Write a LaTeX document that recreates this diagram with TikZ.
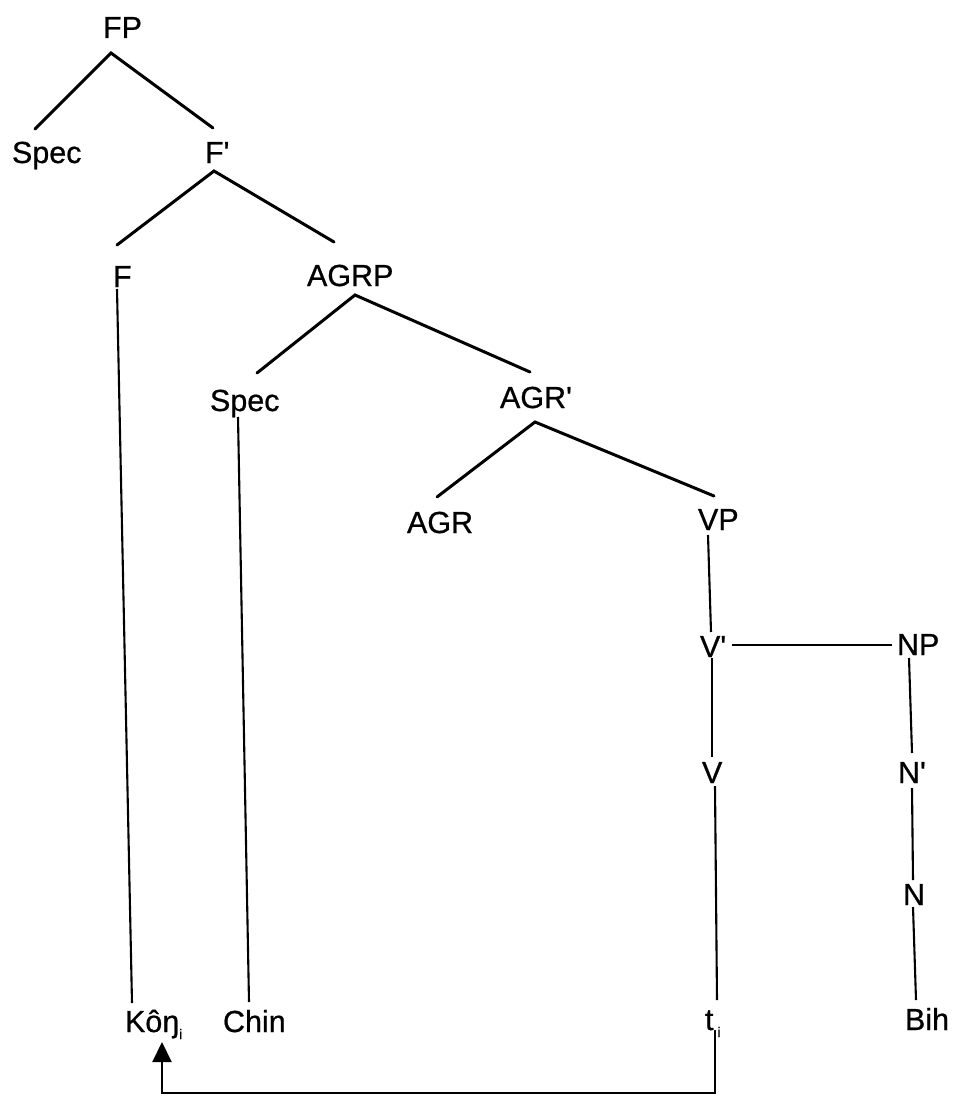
\documentclass[tikz,border=0pt]{standalone}
\usepackage{fontspec}
\setmainfont{Liberation Sans}[Ligatures=TeXOff, UprightFeatures={FakeBold=0.7}]
\usetikzlibrary{arrows.meta}
\tikzset{
  lab/.style={anchor=base west, inner sep=0pt, outer sep=0pt, font=\fontsize{30.5}{36}\selectfont},
  branch/.style={line width=3pt, line cap=round},
  vline/.style={line width=2.1pt, line cap=butt},
  movearrow/.style={line width=2.2pt, -{Triangle[length=20pt,width=19pt]}},
}
\newcommand{\subi}{\raisebox{-7pt}{\fontsize{14}{14}\selectfont i}}
\begin{document}
\begin{tikzpicture}[x=1pt, y=-1pt]
\useasboundingbox (0,0) rectangle (953,1097);
% nodes (left x, baseline y)
\node[lab] (FP)    at (103,38)   {FP};
\node[lab] (SpecA) at (12,163)   {Spec};
\node[lab] (Fbar)  at (205,163)  {F'};
\node[lab] (F)     at (113,287)  {F};
\node[lab] (AGRP)  at (307,286)  {AGRP};
\node[lab] (SpecB) at (210,411)  {Spec};
\node[lab] (AGRbar) at (500,408) {AGR'};
\node[lab] (AGR)   at (407,533)  {AGR};
\node[lab] (VP)    at (698,530)  {VP};
\node[lab] (Vbar)  at (700,657)  {V'};
\node[lab] (NP)    at (897,655)  {NP};
\node[lab] (V)     at (702,783)  {V};
\node[lab] (Nbar)  at (898,783)  {N'};
\node[lab] (N)     at (903,905)  {N};
\node[lab] (Kon)   at (125,1032) {Kôŋ\subi};
\node[lab] (Chin)  at (223,1032) {Chin};
\node[lab] (t)     at (705,1030) {t\kern4pt\subi};
\node[lab] (Bih)   at (905,1030) {Bih};
% branches
\draw[branch] ([shift={(23,-34)}]SpecA.base west) -- ([shift={(8,15)}]FP.base west) -- ([shift={(8,-35)}]Fbar.base west);
\draw[branch] ([shift={(4,-42)}]F.base west) -- ([shift={(9,8)}]Fbar.base west) -- ([shift={(27,-44)}]AGRP.base west);
\draw[branch] ([shift={(47,-38)}]SpecB.base west) -- ([shift={(48,9)}]AGRP.base west) -- ([shift={(30,-36)}]AGRbar.base west);
\draw[branch] ([shift={(30,-36)}]AGR.base west) -- ([shift={(35,14)}]AGRbar.base west) -- ([shift={(16,-34)}]VP.base west);
% vertical / straight lines
\draw[vline] ([shift={(10,5)}]VP.base west) -- ([shift={(11,-25)}]Vbar.base west);
\draw[vline] ([shift={(32,-12)}]Vbar.base west) -- ([shift={(-5,-10)}]NP.base west);
\draw[vline] ([shift={(12,1)}]Vbar.base west) -- ([shift={(10,-26)}]V.base west);
\draw[vline] ([shift={(12,3)}]NP.base west) -- ([shift={(14,-30)}]Nbar.base west);
\draw[vline] ([shift={(14,5)}]Nbar.base west) -- ([shift={(10,-25)}]N.base west);
\draw[vline] ([shift={(10,2)}]N.base west) -- ([shift={(11,-30)}]Bih.base west);
\draw[vline] ([shift={(4,2)}]F.base west) -- ([shift={(7,-29)}]Kon.base west);
\draw[vline] ([shift={(28,6)}]SpecB.base west) -- ([shift={(26,-30)}]Chin.base west);
\draw[vline] ([shift={(13,3)}]V.base west) -- ([shift={(12,-30)}]t.base west);
% movement arrow
\draw[movearrow] ([shift={(10,0)}]t.base west) -- ++(0,63) -| ([shift={(37,10)}]Kon.base west);
\end{tikzpicture}
\end{document}
